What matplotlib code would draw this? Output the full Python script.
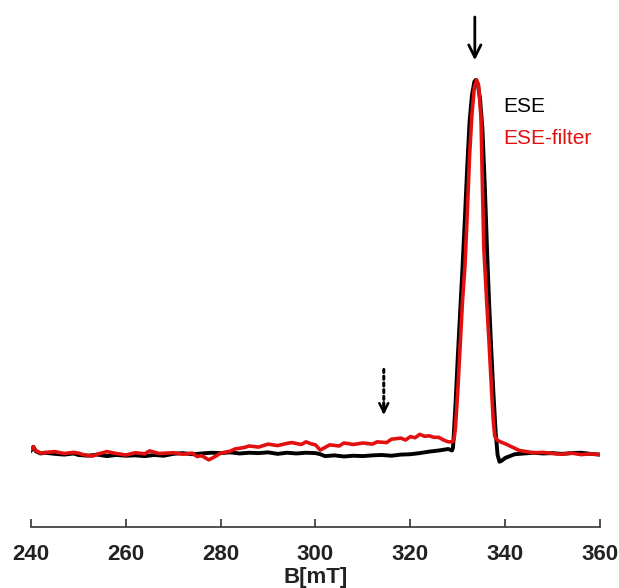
import matplotlib
matplotlib.use("Agg")
import matplotlib.pyplot as plt

# field positions (mT) and signal (baseline ~0, peak ~1)
b_black = [240, 240.5, 241, 242, 243, 245, 247, 249, 250, 252, 254, 256, 258, 260, 262, 264, 266, 268,
           270, 272, 274, 276, 278, 280, 282, 284, 286, 288, 290, 292, 294, 296, 298, 300, 301, 302,
           304, 306, 308, 310, 312, 314, 316, 318, 320, 322, 324, 326, 327, 328, 328.8, 329.0, 329.5,
           330.0, 330.5, 331.0, 331.5, 332.0, 332.5, 333.0, 333.5, 333.8, 334.2, 334.7, 335.2, 335.7,
           336.2, 336.6, 337.0, 337.5, 338.0, 338.4, 338.8, 339.3, 340, 342, 344, 346, 348, 350, 352,
           354, 356, 358, 360]
s_black = [0.012, 0.022, 0.010, 0.004, 0.006, 0.003, 0.001, 0.004, 0.000, -0.002, 0.001, -0.003, 0.000,
           -0.002, -0.001, -0.003, 0.000, -0.002, 0.003, 0.005, 0.002, 0.004, 0.006, 0.005, 0.007,
           0.004, 0.006, 0.005, 0.007, 0.003, 0.006, 0.004, 0.006, 0.005, 0.002, -0.003, -0.001,
           -0.004, -0.002, -0.003, -0.001, 0.000, -0.002, 0.001, 0.002, 0.005, 0.009, 0.012, 0.014,
           0.016, 0.012, 0.02, 0.13, 0.26, 0.38, 0.50, 0.63, 0.77, 0.89, 0.96, 0.995, 1.0, 0.99,
           0.95, 0.87, 0.72, 0.54, 0.41, 0.30, 0.17, 0.06, 0.0, -0.018, -0.015, -0.008, 0.002, 0.004,
           0.006, 0.004, 0.005, 0.003, 0.005, 0.006, 0.003, 0.001]

b_red = [240, 240.5, 241, 242, 244, 245, 247, 249, 250, 251, 253, 254, 256, 258, 260, 262, 264, 265,
         267, 270, 272, 274, 275, 276, 277.5, 279, 280, 282, 283, 285, 286, 288, 290, 292, 294, 295,
         297, 298, 299, 300, 301, 302, 303, 305, 306, 308, 310, 312, 313, 315, 316, 318, 319, 320,
         321, 322, 323, 324, 325, 326, 327, 328, 328.8, 329.2, 329.5, 330.0, 330.5, 331.0, 331.5,
         332.0, 332.5, 333.0, 333.5, 334.0, 334.4, 334.9, 335.2, 335.5, 336.1, 336.6, 337.1, 337.5,
         337.8, 338.3, 339, 340, 341, 342, 343, 344, 346, 348, 350, 352, 354, 356, 358, 360]
s_red = [0.015, 0.022, 0.012, 0.005, 0.008, 0.009, 0.004, 0.007, 0.005, 0.001, -0.003, 0.002, 0.009,
         0.004, 0.000, 0.006, 0.003, 0.011, 0.004, 0.006, 0.002, 0.005, -0.004, -0.002, -0.013,
         -0.003, 0.005, 0.010, 0.016, 0.020, 0.024, 0.021, 0.029, 0.025, 0.031, 0.033, 0.028,
         0.035, 0.030, 0.027, 0.013, 0.020, 0.027, 0.024, 0.032, 0.028, 0.032, 0.029, 0.035, 0.033,
         0.042, 0.045, 0.040, 0.049, 0.046, 0.055, 0.050, 0.051, 0.047, 0.047, 0.040, 0.035,
         0.035, 0.04, 0.07, 0.17, 0.29, 0.41, 0.50, 0.64, 0.80, 0.91, 0.98, 1.0, 0.985, 0.90,
         0.72, 0.55, 0.41, 0.30, 0.18, 0.09, 0.05, 0.04, 0.035, 0.030, 0.024, 0.018, 0.012, 0.010,
         0.006, 0.007, 0.004, 0.002, 0.005, 0.001, 0.003, 0.001]

xticks = [240, 260, 280, 300, 320, 340, 360]

fig = plt.figure(figsize=(6.19, 5.88), dpi=100)
ax = fig.add_axes([31 / 619, 61 / 588, 569 / 619, 527 / 588])

ax.plot(b_black, s_black, color="black", lw=2.8, zorder=2)
ax.plot(b_red, s_red, color="#e31010", lw=2.6, zorder=3)

ax.set_xlim(240, 360)
ax.set_ylim(-0.192, 1.213)

# arrows marking the main peak and the weak feature
ax.annotate("", xy=(333.6, 1.045), xytext=(333.6, 1.175),
            arrowprops=dict(arrowstyle="->", color="black", lw=2, mutation_scale=22))
# dotted shaft + solid open head
ax.annotate("", xy=(314.4, 0.115), xytext=(314.4, 0.228),
            arrowprops=dict(arrowstyle="-", color="black", lw=2.2, ls=(0, (1, 1.2)),
                            shrinkA=0, shrinkB=0))
ax.annotate("", xy=(314.4, 0.107), xytext=(314.4, 0.14),
            arrowprops=dict(arrowstyle="->", color="black", lw=1.8, mutation_scale=16,
                            shrinkA=0, shrinkB=0))

ax.text(339.5, 0.928, "ESE", color="black", fontsize=15, family="Liberation Sans", va="center")
ax.text(339.5, 0.845, "ESE-filter", color="#e31010", fontsize=15, family="Liberation Sans", va="center")

for s in ["top", "left", "right"]:
    ax.spines[s].set_visible(False)
ax.spines["bottom"].set_color("#333333")
ax.spines["bottom"].set_linewidth(1.2)
ax.set_yticks([])
ax.set_xticks(xticks)
ax.tick_params(axis="x", direction="in", length=6, width=1.2, color="#333333", pad=12)
for lab in ax.get_xticklabels():
    lab.set_fontfamily("Liberation Sans")
    lab.set_fontweight("bold")
    lab.set_fontsize(16)
    lab.set_color("#222222")
ax.set_xlabel("B[mT]", fontsize=16, fontweight="bold", family="Liberation Sans",
              color="#222222", labelpad=2)

fig.savefig("out.png", dpi=100)
